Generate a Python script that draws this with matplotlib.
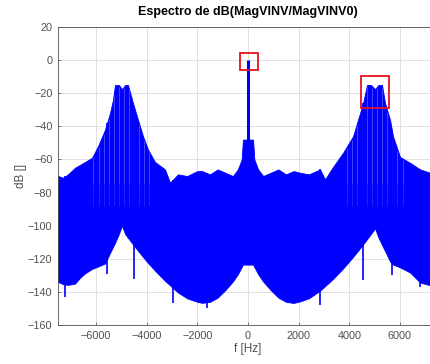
import numpy as np
import matplotlib
matplotlib.use("Agg")
import matplotlib.pyplot as plt
from matplotlib.patches import Rectangle

# ------------------ Data ------------------
# upper envelope of the spectrum (Hz, dB)
f_up = [-7500, -7300, -7106, -6830, -6600, -6435, -6159, -5922, -5645, -5448,
        -5330, -5251, -5100, -4974, -4850, -4738, -4540, -4343, -4145, -3948,
        -3672, -3277, -3079, -2764, -2400, -2000, -1816, -1500, -1200, -900,
        -600, -400, -250, -200, 200, 250, 400, 600, 900, 1200,
        1500, 1800, 2053, 2400, 2843, 3040, 3356, 3750, 4145, 4343,
        4540, 4698, 4850, 5014, 5150, 5290, 5409, 5606, 5725, 6001,
        6396, 6790, 7185, 7500]
db_up = [-70, -71, -69, -65, -63, -61.5, -59, -52, -42, -32,
         -24, -15, -15, -17.5, -15, -15, -26, -36, -46, -54,
         -61.5, -66, -74, -69, -70, -67, -67, -69, -66, -68,
         -70, -66, -60, -48, -48, -60, -66, -70, -68, -66,
         -69, -67, -68, -69, -66, -72, -64.5, -56, -46, -36,
         -26, -15, -15, -17.5, -15, -15, -26, -36, -46, -58.5,
         -62, -66, -68, -69]

# lower envelope of the spectrum (Hz, dB)
f_lo = [-7500, -7200, -6830, -6600, -6300, -5650, -5400, -5170, -5050, -4974,
        -4900, -4658, -4300, -3870, -3300, -2570, -2000, -1700, -1300, -900,
        -500, -316, -150, 0, 150, 316, 500, 900, 1300, 1700,
        2000, 2570, 3300, 3870, 4300, 4658, 4900, 4974, 5050, 5170,
        5400, 5650, 6300, 6600, 6830, 7200, 7500]
db_lo = [-134, -136, -135, -131, -127, -123, -115, -108, -103, -100,
         -104, -109, -116, -124, -133, -143, -146, -147, -145, -139,
         -132, -127, -122, -117, -122, -127, -132, -139, -145, -147,
         -146, -143, -133, -124, -116, -109, -104, -100, -103, -108,
         -115, -123, -127, -131, -135, -136, -134]

# single lines poking below the noise floor
f_dips = [-7225, -5566, -4500, -2960, -1620, 2840, 4540, 5685, 6790]
db_dips = [-143, -129, -132, -147, -150, -148, -133, -130, -137]

# sideband harmonics showing as lighter stripes in the humps
f_harm = [-6100, -5900, -5700, -5500, -5300, -5100, -4900, -4700, -4500, -4300,
          -4100, -3900, 3900, 4100, 4300, 4500, 4700, 4900, 5100, 5300,
          5500, 5700, 5900, 6100]

# carrier line
f_carrier = [0]
db_carrier = [0]

# highlighted regions: (f0, dB0, width, height)
boxes = [(-316, -6.0, 711, 10.2), (4461, -29.0, 1106, 19.3)]

# ------------------ Plot ------------------
plt.rcParams["font.family"] = ["Liberation Sans", "DejaVu Sans"]
fig = plt.figure(figsize=(4.3, 3.64), dpi=100)
ax = fig.add_axes([0.1349, 0.1071, 0.8837, 0.8187])

blue = "#0000ff"
lo_on_up = np.interp(f_up, f_lo, db_lo)
ax.fill_between(f_up, lo_on_up, db_up, color=blue, lw=0.6, edgecolor=blue)
# faint stripes, fading towards the noise floor
ax.vlines(f_harm, -75, np.interp(f_harm, f_up, db_up) - 1, color="white", lw=0.6, alpha=0.3)
ax.vlines(f_harm, -88, -75, color="white", lw=0.6, alpha=0.15)
ax.vlines(f_dips, np.interp(f_dips, f_up, db_up), db_dips, color=blue, lw=1.2)
ax.vlines(f_carrier, np.interp(f_carrier, f_lo, db_lo), db_carrier, color=blue, lw=2.2)

for f0, d0, w, h in boxes:
    ax.add_patch(Rectangle((f0, d0), w, h, fill=False, edgecolor="#e0141e", lw=1.3, zorder=5))

ax.set_xlim(-7500, 7500)
ax.set_ylim(-160, 20)
ax.set_xticks(np.arange(-6000, 6001, 2000))
ax.set_yticks(np.arange(-160, 21, 20))
ax.grid(True, color="#dcdcdc", lw=0.6)
ax.set_axisbelow(True)
ax.tick_params(direction="in", length=2.5, width=0.5, labelsize=7.8, colors="#505050", pad=4)
for s in ax.spines.values():
    s.set_linewidth(0.6)
    s.set_color("#505050")

ax.set_title("Espectro de dB(MagVINV/MagVINV0)", fontsize=9, fontweight="bold", pad=9)
ax.set_xlabel("f [Hz]", fontsize=8.5, color="#505050", labelpad=2)
ax.set_ylabel("dB []", fontsize=8.5, color="#505050", labelpad=1)

fig.savefig("out.png", dpi=100)
